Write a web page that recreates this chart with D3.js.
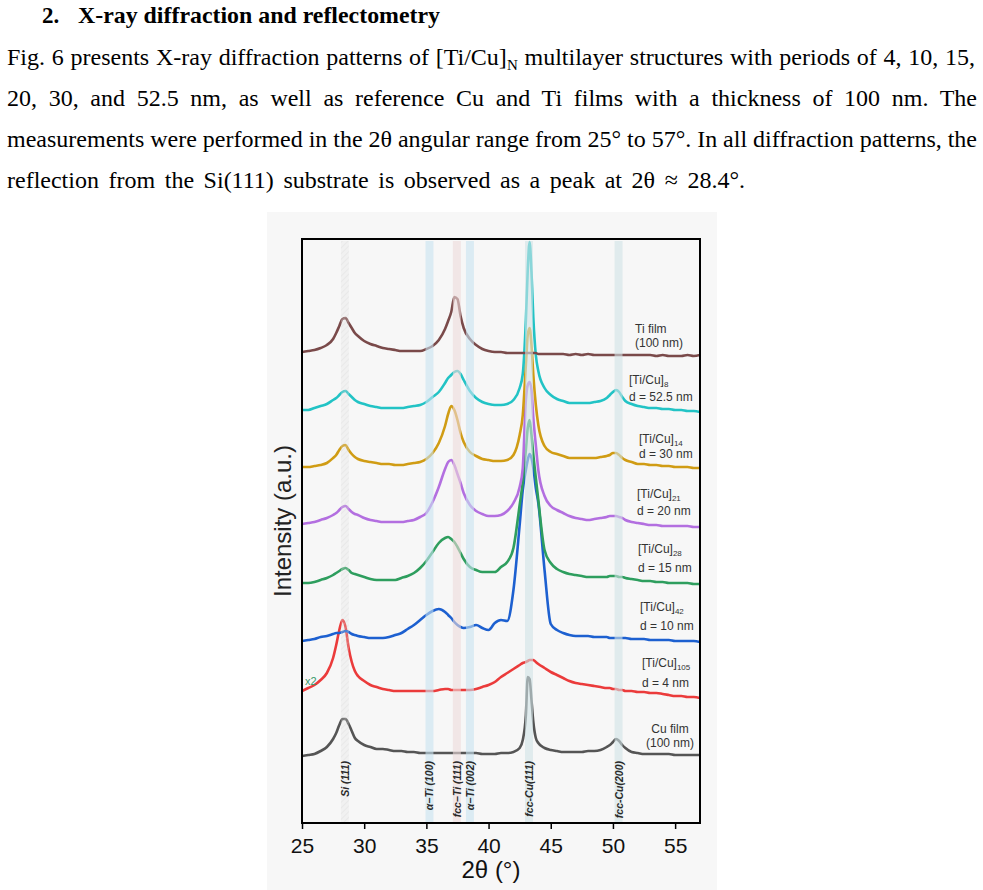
<!DOCTYPE html>
<html>
<head>
<meta charset="utf-8">
<script src="https://cdn.jsdelivr.net/npm/d3@7"></script>
<style>
body { margin:0; background:#fff; }
svg { display:block; }
</style>
</head>
<body>
<svg id="page"></svg>
<script>
// 2theta grid (deg) the traces were read on
var angles = [25,25.5,26,26.5,27,27.5,
  27.75,28,28.25,28.5,28.75,29,29.25,29.5,
  30,30.5,31,31.5,32,32.5,33,33.5,34,
  34.5,35,35.5,36,36.5,
  36.75,37,37.25,37.5,37.75,38,
  38.5,39,39.5,40,40.5,41,41.5,42,42.5,
  42.75,43,43.15,43.3,43.45,43.6,43.8,44,
  44.5,45,45.5,46,46.5,47,47.5,48,48.5,49,49.5,
  49.75,50,50.25,50.5,50.75,51,
  51.5,52,52.5,53,53.5,54,54.5,55,55.5,56,56.5,57];

// intensities (a.u., stacked as plotted)
var tiFilm = [47.1,47.2,47.3,47.5,47.8,48.4,
  49.0,49.7,50.4,50.5,50.0,49.5,49.0,48.7,
  48.2,47.9,47.7,47.5,47.4,47.3,47.2,47.2,47.2,
  47.2,47.4,47.7,48.3,49.4,
  50.2,51.1,52.6,52.4,50.7,49.5,
  48.4,47.8,47.4,47.2,47.1,47.1,47.0,47.0,47.0,
  47.0,47.0,47.0,47.0,47.0,47.0,47.0,46.9,
  46.9,46.9,46.9,46.9,46.8,46.9,46.8,46.9,46.8,46.8,46.8,
  46.8,46.8,46.8,46.8,46.8,46.8,
  46.8,46.8,46.8,46.8,46.7,46.8,46.7,46.7,46.7,46.8,46.7,46.8];
var tiCu8 = [41.3,41.3,41.5,41.7,41.9,42.3,
  42.5,42.8,43.1,43.2,42.9,42.6,42.3,42.1,
  41.9,41.7,41.6,41.5,41.5,41.5,41.5,41.6,41.7,
  41.8,42.1,42.6,43.1,44.0,
  44.5,44.8,45.1,45.2,44.9,44.3,
  43.2,42.5,42.1,41.9,41.8,41.8,41.9,42.3,43.5,
  44.9,50.3,55.3,58.1,55.1,50.5,46.8,45.2,
  43.5,42.8,42.4,42.2,42.0,42.0,42.0,42.0,42.1,42.2,42.5,
  42.8,43.1,43.3,43.1,42.6,42.2,
  41.9,41.7,41.6,41.5,41.5,41.4,41.4,41.3,41.3,41.2,41.2,41.1];
var tiCu14 = [35.6,35.6,35.7,35.8,36.0,36.5,
  36.8,37.3,37.7,37.8,37.3,36.9,36.6,36.4,
  36.2,36.1,36.0,35.9,35.9,35.8,35.8,35.9,36.0,
  36.1,36.4,37.0,38.0,39.7,
  40.9,41.7,41.3,40.3,39.0,38.1,
  37.1,36.7,36.4,36.3,36.2,36.2,36.3,36.8,38.8,
  40.8,45.8,48.8,49.5,47.8,44.8,41.8,39.8,
  37.7,37.1,36.9,36.7,36.5,36.5,36.5,36.5,36.5,36.6,36.7,
  36.8,37.0,37.0,36.8,36.5,36.3,
  36.1,35.9,35.9,35.8,35.8,35.7,35.7,35.6,35.6,35.6,35.5,35.5];
var tiCu21 = [29.9,30.0,30.1,30.3,30.5,30.8,
  31.0,31.3,31.6,31.7,31.4,31.1,30.9,30.8,
  30.5,30.3,30.2,30.1,30.1,30.1,30.1,30.2,30.3,
  30.6,31.0,32.1,33.6,35.4,
  36.1,36.3,35.8,34.9,34.0,33.0,
  31.8,31.2,30.9,30.7,30.7,30.8,31.2,32.0,33.6,
  35.5,42.3,43.8,44.1,43.3,40.5,37.8,35.3,
  32.7,31.7,31.3,31.0,30.7,30.5,30.4,30.3,30.4,30.5,30.6,
  30.7,30.7,30.7,30.6,30.5,30.3,
  30.1,30.0,29.9,29.8,29.8,29.7,29.7,29.7,29.7,29.7,29.6,29.6];
var tiCu28 = [24.0,24.0,24.1,24.3,24.5,24.8,
  25.0,25.2,25.4,25.5,25.3,25.0,24.9,24.8,
  24.6,24.4,24.3,24.3,24.3,24.3,24.5,24.7,25.0,
  25.5,26.2,27.1,28.0,28.5,
  28.6,28.4,28.1,27.6,27.0,26.4,
  25.6,25.3,25.1,25.1,25.1,25.6,26.1,27.5,31.8,
  34.1,37.3,39.5,40.3,38.8,36.8,34.5,32.3,
  27.3,26.0,25.4,25.1,24.9,24.8,24.7,24.6,24.6,24.6,24.6,
  24.7,24.7,24.7,24.6,24.6,24.5,
  24.4,24.3,24.2,24.2,24.1,24.1,24.0,24.0,24.0,24.0,23.9,23.9];
var tiCu42 = [18.2,18.3,18.4,18.6,18.7,18.9,
  19.0,19.0,19.1,19.2,19.1,18.9,18.8,18.7,
  18.6,18.5,18.5,18.5,18.6,18.8,19.0,19.4,19.8,
  20.3,20.8,21.2,21.4,21.1,
  20.8,20.5,20.1,19.8,19.6,19.5,
  19.6,19.8,19.5,19.3,20.0,20.3,20.2,23.3,29.8,
  33.3,35.3,36.3,36.9,36.5,35.5,33.5,32.0,
  25.3,19.9,19.3,19.0,18.8,18.7,18.7,18.7,18.6,18.6,18.6,
  18.5,18.5,18.5,18.5,18.5,18.5,
  18.4,18.4,18.4,18.3,18.3,18.3,18.3,18.2,18.2,18.2,18.2,18.1];
var tiCu105 = [13.2,13.5,13.8,14.3,15.0,16.5,
  17.8,19.3,20.3,19.6,17.5,16.1,15.2,14.7,
  14.2,13.8,13.6,13.4,13.3,13.2,13.2,13.2,13.2,
  13.2,13.2,13.2,13.3,13.4,
  13.4,13.3,13.3,13.3,13.3,13.3,
  13.3,13.4,13.6,13.8,14.1,14.6,15.0,15.4,15.8,
  16.0,16.1,16.2,16.3,16.3,16.3,16.1,15.9,
  15.5,15.1,14.8,14.5,14.2,14.0,13.9,13.8,13.7,13.6,13.5,
  13.5,13.4,13.4,13.3,13.3,13.2,
  13.2,13.1,13.1,13.0,13.0,12.9,12.8,12.7,12.7,12.6,12.6,12.5];
var cuFilm = [6.7,6.8,6.9,7.2,7.6,8.4,
  9.0,9.8,10.4,10.4,9.9,9.2,8.5,8.2,
  7.8,7.6,7.4,7.4,7.3,7.2,7.2,7.1,7.1,
  7.0,7.0,7.0,7.0,7.0,
  7.0,7.0,7.0,7.0,7.0,7.0,
  7.0,7.0,6.9,6.9,6.9,7.0,7.0,7.1,7.5,
  8.3,10.8,14.6,14.4,12.3,10.1,8.5,8.0,
  7.5,7.3,7.2,7.1,7.1,7.1,7.1,7.2,7.2,7.3,7.6,
  7.8,8.1,8.4,8.2,7.8,7.5,
  7.1,7.0,6.9,6.9,6.9,6.9,6.9,6.8,6.8,6.8,6.8,6.8];

var series = [tiFilm, tiCu8, tiCu14, tiCu21, tiCu28, tiCu42, tiCu105, cuFilm];
var colors = ["#7a4a4a","#22c3c5","#d09c14","#b36fe0","#2e9e5e","#1d60d0","#eb3b3b","#555555"];

// right hand labels
var labelMain = ["Ti film","[Ti/Cu]","[Ti/Cu]","[Ti/Cu]","[Ti/Cu]","[Ti/Cu]","[Ti/Cu]","Cu film"];
var labelSub = ["","8","14","21","28","42","105",""];
var labelSecond = ["(100 nm)","d = 52.5 nm","d = 30 nm","d = 20 nm","d = 15 nm","d = 10 nm","d = 4 nm","(100 nm)"];

// reference reflections
var phaseNames = ["Si (111)","\u03b1\u2212Ti (100)","fcc\u2212Ti (111)","\u03b1\u2212Ti (002)","fcc-Cu(111)","fcc-Cu(200)"];
var phaseAngles = [28.45, 35.25, 37.45, 38.5, 43.25, 50.45];
var phaseKind = ["si","alpha","fcc","alpha","cu","cu"];

var xTicks = [25,30,35,40,45,50,55];

var width = 983, height = 890;
var svg = d3.select("#page").attr("width", width).attr("height", height)
  .style("font-family", "'Liberation Sans', Arial, sans-serif");

// ---- paragraph text ----
var serif = "'Liberation Serif', 'Times New Roman', serif";
// stretch the gaps between words so a line ends at the given width
var justify = function(sel, target){
  var node = sel.node();
  var w = node.getComputedTextLength();
  var gaps = (node.textContent.match(/ /g) || []).length;
  if (gaps > 0) sel.style("word-spacing", ((target - w) / gaps) + "px");
}

svg.append("text").attr("x", 42).attr("y", 23)
  .style("font-family", serif).style("font-weight", "bold").style("font-size", "23px")
  .text("2.");
svg.append("text").attr("x", 78).attr("y", 23)
  .style("font-family", serif).style("font-weight", "bold").style("font-size", "23px")
  .attr("textLength", 362).attr("lengthAdjust", "spacingAndGlyphs")
  .text("X-ray diffraction and reflectometry");

var l1 = svg.append("text").attr("x", 7).attr("y", 65)
  .style("font-family", serif).style("font-size", "24px");
l1.append("tspan").text("Fig. 6 presents X-ray diffraction patterns of [Ti/Cu]");
l1.append("tspan").attr("dy", 5).style("font-size", "15px").text("N");
l1.append("tspan").attr("dy", -5).text(" multilayer structures with periods of 4, 10, 15,");
justify(l1, 968);

var paraLines = ["20, 30, and 52.5 nm, as well as reference Cu and Ti films with a thickness of 100 nm. The",
  "measurements were performed in the 2\u03b8 angular range from 25\u00b0 to 57\u00b0. In all diffraction patterns, the",
  "reflection from the Si(111) substrate is observed as a peak at 2\u03b8 \u2248 28.4\u00b0."];
var paraLen = [970, 970, 738];
paraLines.forEach(function(t, i){
  var tl = svg.append("text").attr("x", 7).attr("y", 106 + i*41)
    .style("font-family", serif).style("font-size", "24px")
    .text(t);
  justify(tl, paraLen[i]);
});

// ---- figure ----
svg.append("rect").attr("x", 267).attr("y", 212).attr("width", 450).attr("height", 678)
  .attr("fill", "#f7f7f7");

var plot = {left:302, right:700, top:239, bottom:823};
var x = d3.scaleLinear().domain([25, 57]).range([plot.left, plot.right]);
var y = d3.scaleLinear().domain([0, 58.4]).range([plot.bottom, plot.top]);

var defs = svg.append("defs");
defs.append("clipPath").attr("id", "clip").append("rect")
  .attr("x", plot.left).attr("y", plot.top).attr("width", plot.right-plot.left).attr("height", plot.bottom-plot.top);
var hatch = defs.append("pattern").attr("id", "hatch").attr("patternUnits", "userSpaceOnUse")
  .attr("width", 4).attr("height", 4).attr("patternTransform", "rotate(45)");
hatch.append("rect").attr("width", 4).attr("height", 4).attr("fill", "rgba(225,225,225,0.25)");
hatch.append("line").attr("x1", 0).attr("y1", 0).attr("x2", 0).attr("y2", 4)
  .attr("stroke", "rgba(205,205,205,0.4)").attr("stroke-width", 1.2);

var line = d3.line()
  .x(function(d, i){ return x(angles[i]); })
  .y(function(d){ return y(d); })
  .curve(d3.curveMonotoneX);

var gLines = svg.append("g").attr("clip-path", "url(#clip)");
var order = [7,6,5,4,3,2,1,0];
order.forEach(function(k){
  gLines.append("path")
    .attr("d", line(series[k]))
    .attr("fill", "none")
    .attr("stroke", colors[k])
    .attr("stroke-width", 2.6)
    .attr("stroke-linejoin", "round");
});

// bands on top, semi transparent
var bandFill = {si:"url(#hatch)", alpha:"rgba(200,226,240,0.6)", fcc:"rgba(236,218,218,0.6)", cu:"rgba(208,226,230,0.6)"};
svg.append("g").selectAll("rect")
  .data(phaseAngles)
  .enter()
  .append("rect")
  .attr("x", function(d){ return x(d - 0.32); })
  .attr("width", function(d){ return x(d + 0.32) - x(d - 0.32); })
  .attr("y", plot.top + 2)
  .attr("height", plot.bottom - plot.top - 3)
  .attr("fill", function(d, i){ return bandFill[phaseKind[i]]; });

svg.append("g").selectAll("text")
  .data(phaseAngles)
  .enter()
  .append("text")
  .attr("transform", function(d){ return "translate(" + (x(d)+4) + ",761) rotate(-90)"; })
  .attr("text-anchor", "end")
  .style("font-size", "10.5px")
  .style("font-style", "italic")
  .style("font-weight", "bold")
  .attr("fill", "#2a2a2a")
  .text(function(d, i){ return phaseNames[i]; });

// frame
svg.append("rect")
  .attr("x", plot.left).attr("y", plot.top)
  .attr("width", plot.right-plot.left).attr("height", plot.bottom-plot.top)
  .attr("fill", "none").attr("stroke", "#000").attr("stroke-width", 2);

// x axis
var xAxis = d3.axisBottom(x).tickValues(xTicks).tickSize(6).tickPadding(9);
var gx = svg.append("g").attr("transform", "translate(0," + plot.bottom + ")").call(xAxis);
gx.select(".domain").remove();
gx.selectAll(".tick line").attr("stroke", "#000").attr("stroke-width", 1.5);
gx.selectAll(".tick text").style("font-size", "21px").style("font-family", "'Liberation Sans', Arial, sans-serif").attr("fill", "#111");

svg.append("text").attr("x", 491).attr("y", 878).attr("text-anchor", "middle")
  .style("font-size", "24px").attr("fill", "#111").text("2\u03b8 (\u00b0)");
svg.append("text").attr("transform", "translate(291,521) rotate(-90)").attr("text-anchor", "middle")
  .style("font-size", "24px").attr("fill", "#222").text("Intensity (a.u.)");

// trace labels
var labelX = [635, 629, 639, 637, 638, 640, 642, 670];
var labelY = [333, 384, 443, 498, 553, 611, 667, 733];
var labelGap = [14, 17, 15, 17, 19, 19, 20, 14];
series.forEach(function(s, i){
  var anchor = i === 7 ? "middle" : "start";
  var t = svg.append("text").attr("x", labelX[i]).attr("y", labelY[i])
    .attr("text-anchor", anchor).style("font-size", "12px").attr("fill", "#333");
  t.append("tspan").text(labelMain[i]);
  if (labelSub[i]) t.append("tspan").attr("dy", 3).style("font-size", "8px").text(labelSub[i]);
  svg.append("text").attr("x", labelX[i]).attr("y", labelY[i] + labelGap[i])
    .attr("text-anchor", anchor).style("font-size", "12px").attr("fill", "#333")
    .text(labelSecond[i]);
});

svg.append("text").attr("x", 305).attr("y", 685).style("font-size", "11px")
  .attr("fill", "#3a9a6c").text("x2");
</script>
</body>
</html>
